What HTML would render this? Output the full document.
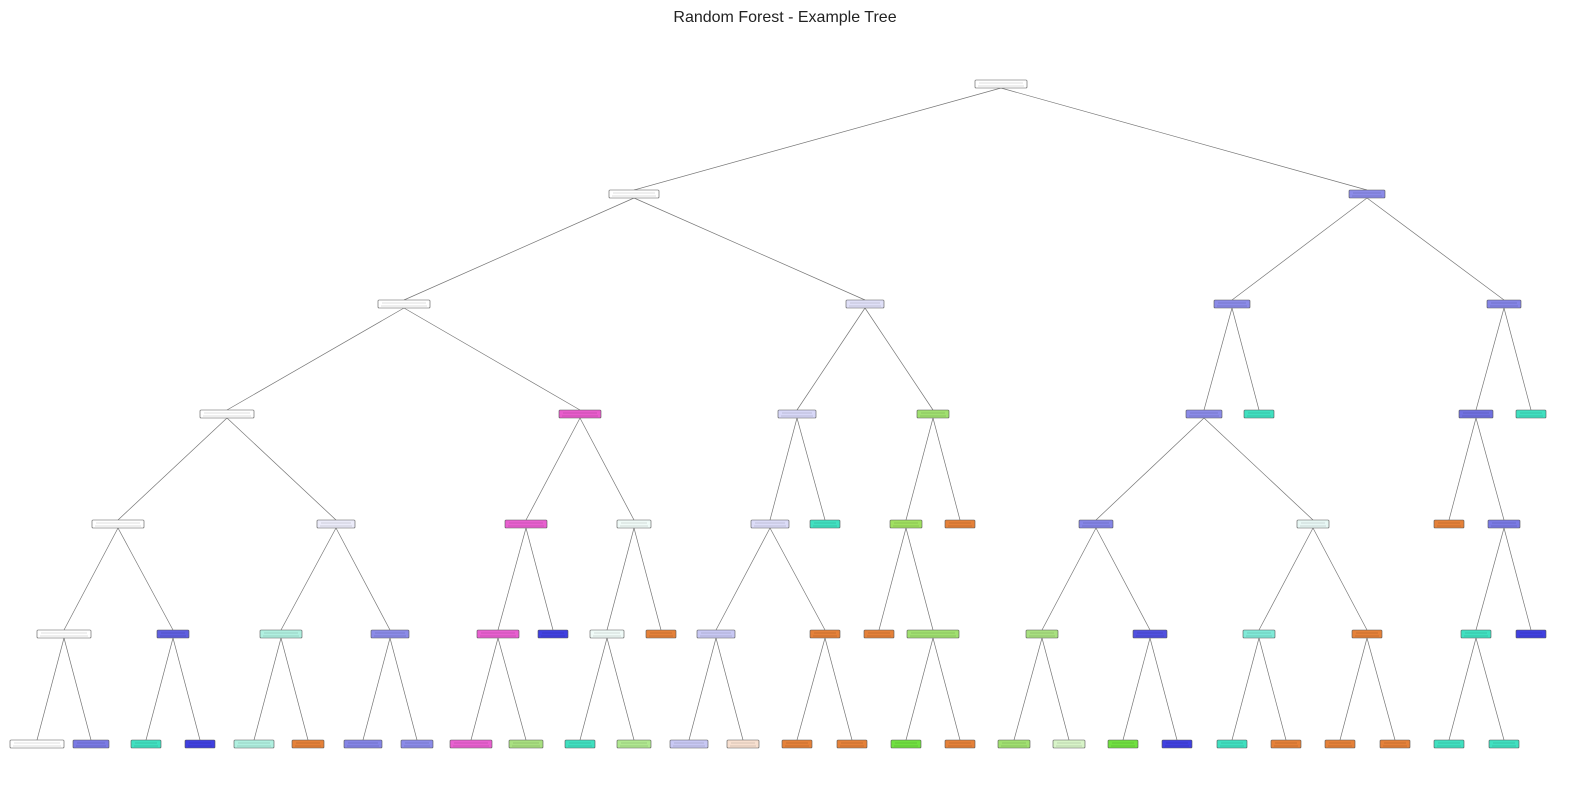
<!DOCTYPE html>
<html><head><meta charset="utf-8"><style>
html,body{margin:0;padding:0;background:#fff;width:1570px;height:810px;overflow:hidden}
</style></head><body>
<svg id="s" width="1570" height="810" xmlns="http://www.w3.org/2000/svg">
<text x="785" y="22" text-anchor="middle" font-family="Liberation Sans, sans-serif" font-size="16" fill="#222">Random Forest - Example Tree</text>
</svg>
<script>
var Y=[84,194,304,414,524,634,744];
// [id, level, x, w, color, parent]
var N=[
["a",0,1001,52,"#ffffff",null],
["b",1,634,50,"#ffffff","a"],["c",1,1367,36,"#8b8be8","a"],
["d",2,404,52,"#ffffff","b"],["e",2,865,38,"#e0e0f8","b"],["f",2,1232,36,"#8b8be8","c"],["g",2,1504,34,"#8585e6","c"],
["h",3,227,54,"#ffffff","d"],["i",3,580,42,"#e85ccc","d"],["j",3,797,38,"#d8d8f8","e"],["k",3,933,32,"#a0e070","e"],["l",3,1204,36,"#8b8be8","f"],["m",3,1259,30,"#40e0c0","f"],["n",3,1476,34,"#7070e0","g"],["o",3,1531,30,"#40e0c0","g"],
["p",4,118,52,"#ffffff","h"],["q",4,336,38,"#ececfa","h"],["r",4,526,42,"#e860d0","i"],["s",4,634,34,"#f0fbf8","i"],["t",4,770,38,"#dcdcf8","j"],["u",4,825,30,"#40e0c0","j"],["v",4,906,32,"#a0e060","k"],["w",4,960,30,"#e58139","k"],["x",4,1096,34,"#8585e6","l"],["y",4,1313,32,"#e8f8f5","l"],["z",4,1449,30,"#e58139","n"],["A",4,1504,32,"#7a7ae4","n"],
["B",5,64,54,"#ffffff","p"],["C",5,173,32,"#6060e0","p"],["D",5,281,42,"#b0f0e0","q"],["E",5,390,38,"#8b8be8","q"],["F",5,498,42,"#e860d0","r"],["G",5,553,30,"#4040e0","r"],["H",5,607,34,"#f0fbf8","s"],["I",5,661,30,"#e58139","s"],["J",5,716,38,"#c8c8f4","t"],["K",5,825,30,"#e58139","t"],["L",5,879,30,"#e58139","v"],["M",5,933,52,"#a0e070","v"],["O",5,1042,32,"#a8e080","x"],["P",5,1150,34,"#5050e0","x"],["Q",5,1259,32,"#80ead8","y"],["R",5,1367,30,"#e58139","y"],["S",5,1476,30,"#40e0c0","A"],["T",5,1531,30,"#4040e0","A"],
["1",6,37,54,"#ffffff","B"],["2",6,91,36,"#7a7ae4","B"],["3",6,146,30,"#40e0c0","C"],["4",6,200,30,"#4040e0","C"],["5",6,254,40,"#b0f0e0","D"],["6",6,308,32,"#e58139","D"],["7",6,363,38,"#8585e6","E"],["8",6,417,32,"#8b8be8","E"],["9",6,471,42,"#e860d0","F"],["10",6,526,34,"#a8e080","F"],["11",6,580,30,"#40e0c0","H"],["12",6,634,34,"#b0e890","H"],["13",6,689,38,"#c8c8f4","J"],["14",6,743,32,"#f8e0d0","J"],["15",6,797,30,"#e58139","K"],["16",6,852,30,"#e58139","K"],["17",6,906,30,"#70e040","M"],["18",6,960,30,"#e58139","M"],["19",6,1014,32,"#a0e070","O"],["20",6,1069,32,"#d8f4c8","O"],["21",6,1123,30,"#70e040","P"],["22",6,1177,30,"#4040e0","P"],["23",6,1232,30,"#40e0c0","Q"],["24",6,1286,30,"#e58139","Q"],["25",6,1340,30,"#e58139","R"],["26",6,1395,30,"#e58139","R"],["27",6,1449,30,"#40e0c0","S"],["28",6,1504,30,"#40e0c0","S"]
];
var M={},s=document.getElementById("s"),ns="http://www.w3.org/2000/svg",h="";
N.forEach(function(n){M[n[0]]=n;});
N.forEach(function(n){if(n[5]){var p=M[n[5]];h+='<line x1="'+p[2]+'" y1="'+(Y[p[1]]+4)+'" x2="'+n[2]+'" y2="'+(Y[n[1]]-4)+'" stroke="#777" stroke-width="0.7"/>';}});
N.forEach(function(n){var y=Y[n[1]];h+='<rect x="'+(n[2]-n[3]/2)+'" y="'+(y-4)+'" width="'+n[3]+'" height="8" rx="1" fill="'+n[4]+'" stroke="#555" stroke-width="0.6"/>';
h+='<line x1="'+(n[2]-n[3]/2+4)+'" y1="'+(y-1)+'" x2="'+(n[2]+n[3]/2-4)+'" y2="'+(y-1)+'" stroke="#000" stroke-opacity="0.25" stroke-width="0.6"/>';
h+='<line x1="'+(n[2]-n[3]/2+3)+'" y1="'+(y+2)+'" x2="'+(n[2]+n[3]/2-3)+'" y2="'+(y+2)+'" stroke="#000" stroke-opacity="0.25" stroke-width="0.6"/>';});
s.insertAdjacentHTML("beforeend",h);
</script>
</body></html>
